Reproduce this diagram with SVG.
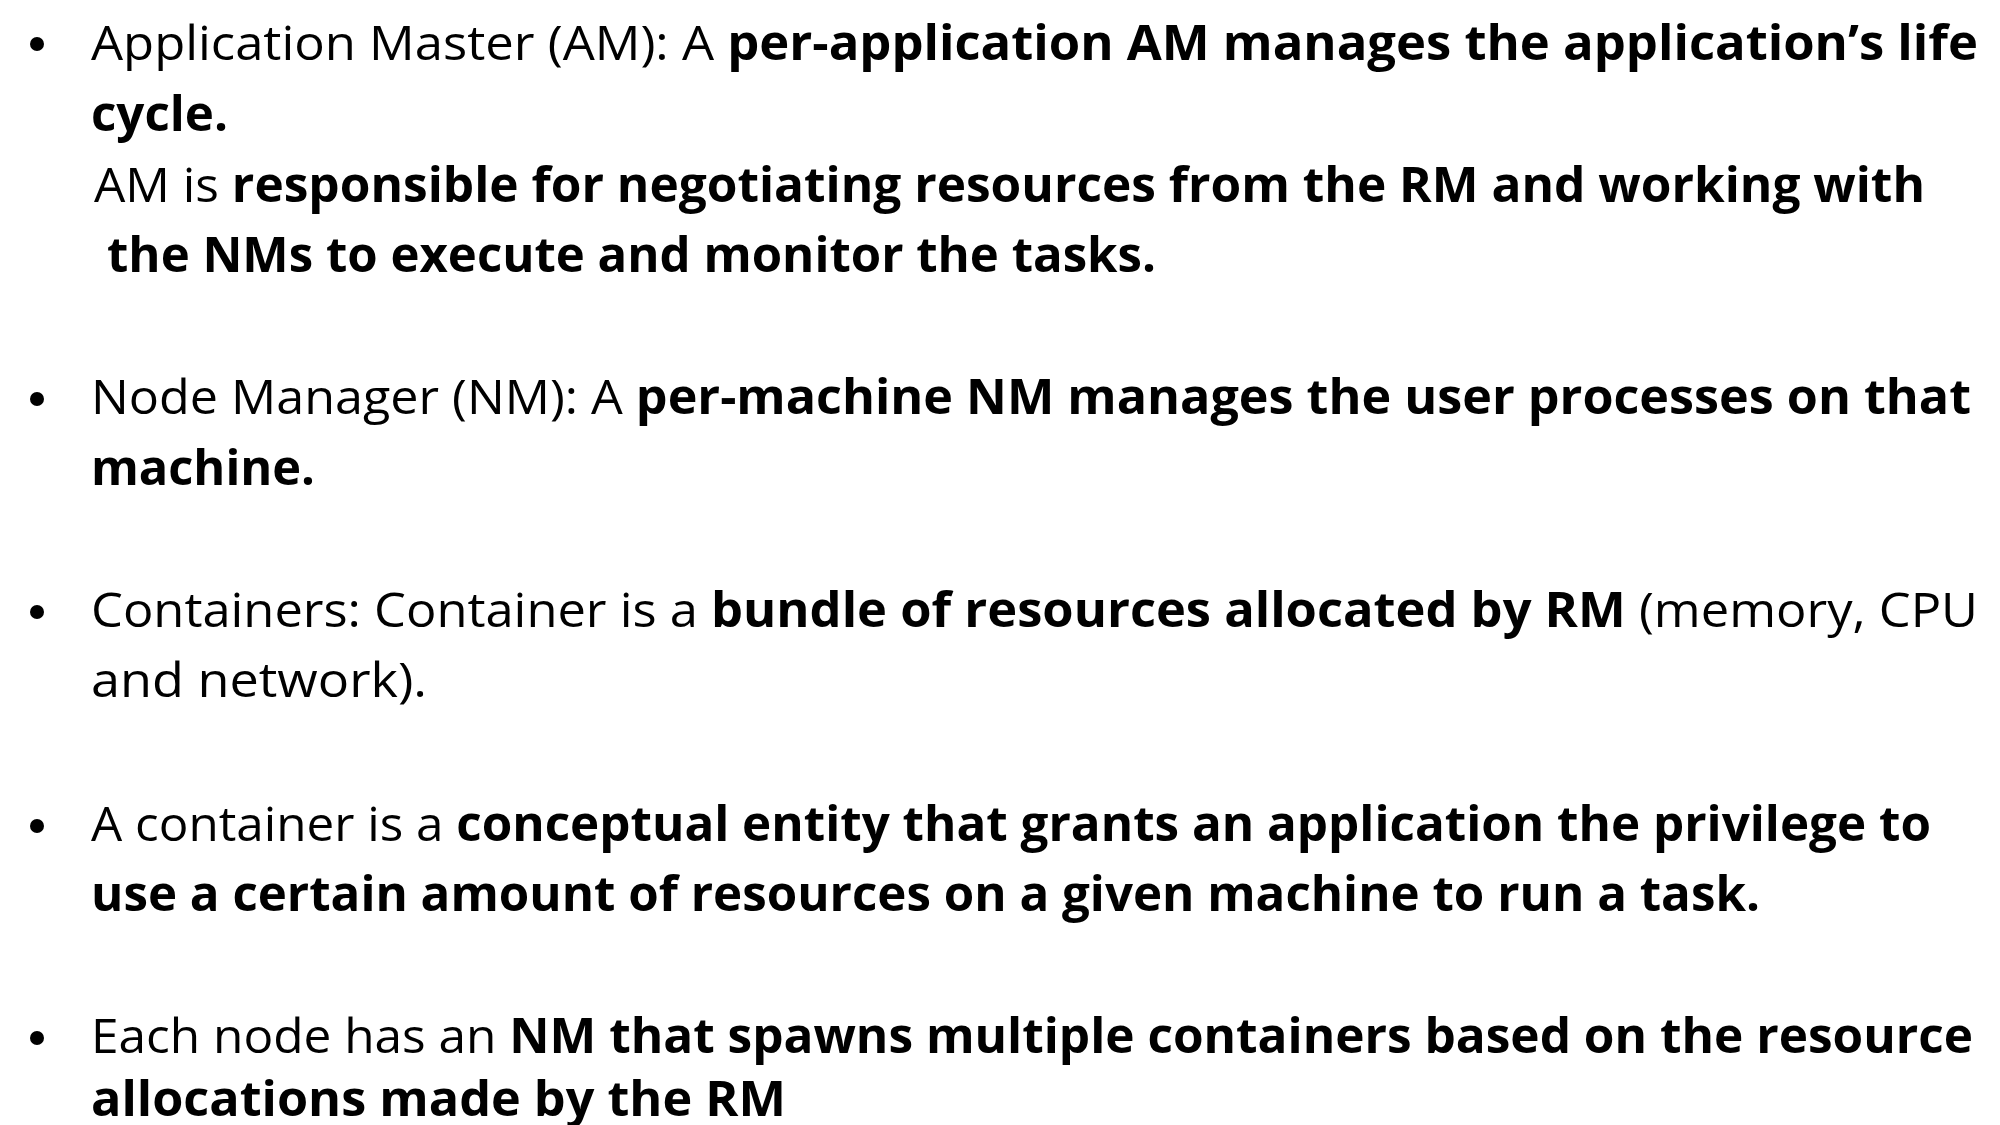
<svg xmlns="http://www.w3.org/2000/svg" width="2000" height="1125" viewBox="0 0 2000 1125">
<style>
text{font-family:"Open Sans","Liberation Sans",sans-serif;font-size:48px;fill:#000}
.b{font-weight:bold}
</style>
<rect width="2000" height="1125" fill="#fff"/>
<g id="bullets" fill="#000">
<circle cx="37" cy="44" r="7"/>
<circle cx="37" cy="399" r="7"/>
<circle cx="37" cy="612" r="7"/>
<circle cx="37" cy="826" r="7"/>
<circle cx="37" cy="1038" r="7"/>
</g>
<g id="item1">
<text x="91" y="60" textLength="1887" lengthAdjust="spacingAndGlyphs">Application Master (AM): A <tspan class="b">per-application AM manages the application’s life</tspan></text>
<text x="91" y="131" class="b" textLength="137" lengthAdjust="spacingAndGlyphs">cycle.</text>
<text x="94" y="202" textLength="1831" lengthAdjust="spacingAndGlyphs">AM is <tspan class="b">responsible for negotiating resources from the RM and working with</tspan></text>
<text x="107" y="272" class="b" textLength="1049" lengthAdjust="spacingAndGlyphs">the NMs to execute and monitor the tasks.</text>
</g>
<g id="item2">
<text x="91" y="414" textLength="1880" lengthAdjust="spacingAndGlyphs">Node Manager (NM): A <tspan class="b">per-machine NM manages the user processes on that</tspan></text>
<text x="91" y="485" class="b" textLength="224" lengthAdjust="spacingAndGlyphs">machine.</text>
</g>
<g id="item3">
<text x="91" y="627" textLength="1887" lengthAdjust="spacingAndGlyphs">Containers: Container is a <tspan class="b">bundle of resources allocated by RM</tspan> (memory, CPU</text>
<text x="91" y="697" textLength="336" lengthAdjust="spacingAndGlyphs">and network).</text>
</g>
<g id="item4">
<text x="91" y="841" textLength="1840" lengthAdjust="spacingAndGlyphs">A container is a <tspan class="b">conceptual entity that grants an application the privilege to</tspan></text>
<text x="91" y="911" textLength="1669" lengthAdjust="spacingAndGlyphs"><tspan class="b">use a certain amount of resources on a given machine  to run a task.</tspan></text>
</g>
<g id="item5">
<text x="91" y="1053" textLength="1882" lengthAdjust="spacingAndGlyphs">Each node has an <tspan class="b">NM that spawns multiple containers based on the resource</tspan></text>
<text x="91" y="1116" class="b" textLength="695" lengthAdjust="spacingAndGlyphs">allocations made by the  RM</text>
</g>
<g id="connectors"/>
</svg>
